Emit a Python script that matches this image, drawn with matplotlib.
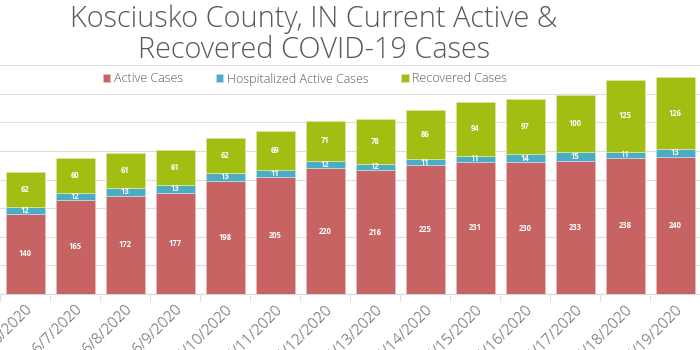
import numpy as np
import matplotlib
matplotlib.use("Agg")
import matplotlib.pyplot as plt

dates = ["6/6/2020", "6/7/2020", "6/8/2020", "6/9/2020", "6/10/2020", "6/11/2020",
         "6/12/2020", "6/13/2020", "6/14/2020", "6/15/2020", "6/16/2020",
         "6/17/2020", "6/18/2020", "6/19/2020"]
active = [140, 165, 172, 177, 198, 205, 220, 216, 225, 231, 230, 233, 238, 240]
hospitalized = [12, 12, 13, 13, 13, 11, 12, 12, 11, 11, 14, 15, 11, 13]
recovered = [62, 60, 61, 61, 62, 69, 71, 78, 86, 94, 97, 100, 125, 126]

plt.rcParams["font.family"] = ["Open Sans", "DejaVu Sans"]

c_act = "#C76363"
c_hos = "#4BACC6"
c_rec = "#A3BE12"
txt = "#595959"

fig = plt.figure(figsize=(7, 3.5), dpi=100)
ax = fig.add_axes([0, 0.16, 1, 0.654])

x = np.arange(len(dates))
w = 0.78
act = np.array(active)
hos = np.array(hospitalized)
rec = np.array(recovered)

b1 = ax.bar(x, act, w, color=c_act, edgecolor="#E8B8B8", linewidth=0.6, label="Active Cases", zorder=3)
b2 = ax.bar(x, hos, w, bottom=act, color=c_hos, edgecolor="#B8DDE8", linewidth=0.6,
            label="Hospitalized Active Cases", zorder=3)
b3 = ax.bar(x, rec, w, bottom=act + hos, color=c_rec, edgecolor="#D8E6A0", linewidth=0.6,
            label="Recovered Cases", zorder=3)

for bars, vals, bot in [(b1, act, 0 * act), (b2, hos, act), (b3, rec, act + hos)]:
    for i, v in enumerate(vals):
        ax.text(x[i], bot[i] + v / 2, str(v), ha="center", va="center", color="white",
                fontsize=5.5, fontweight="bold", zorder=4)

ax.set_xlim(-0.275, 13.45)
ax.set_ylim(0, 400)
ax.set_yticks(np.arange(0, 401, 50))
ax.yaxis.grid(True, color="#DDDDDD", linewidth=0.8, zorder=0)
ax.tick_params(axis="y", left=False, labelleft=False)
for s in ["top", "left", "right"]:
    ax.spines[s].set_visible(False)
ax.spines["bottom"].set_color("#D9D9D9")

ax.set_xticks(x)
ax.set_xticklabels(dates, rotation=45, ha="right", rotation_mode="anchor",
                   fontsize=11, color=txt, fontweight="light")
ax.tick_params(axis="x", length=0, pad=6)
ax.set_xticks(np.arange(-0.5, 14, 1), minor=True)
ax.tick_params(axis="x", which="minor", length=5, color="#D9D9D9")

fig.text(314 / 700, 1 - 4 / 350, "Kosciusko County, IN Current Active &\nRecovered COVID-19 Cases",
         ha="center", va="top", fontsize=20.8, color=txt, linespacing=1.08, fontweight="light")

fig.legend(handles=[b1, b2, b3], loc="center", bbox_to_anchor=(305 / 700, 1 - 79 / 350),
           ncol=3, frameon=False, fontsize=9, labelcolor=txt, handlelength=0.6,
           handleheight=0.6, handletextpad=0.3, columnspacing=2.6,
           prop={"weight": "light", "size": 9})

fig.savefig("out.png", dpi=100)
